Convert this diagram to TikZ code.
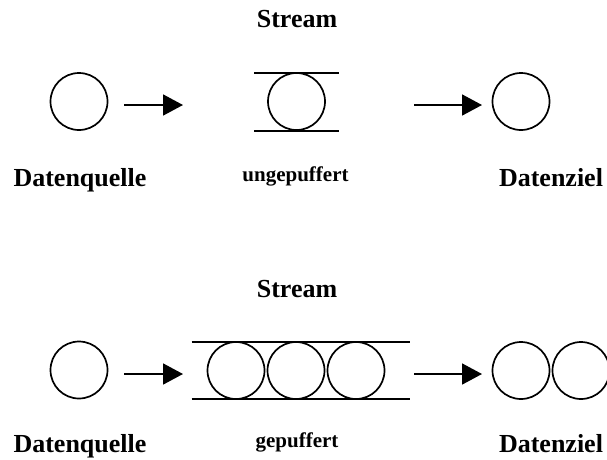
\documentclass[tikz,border=0pt]{standalone}
\usepackage{fontspec}
\setmainfont{Liberation Serif}
\usetikzlibrary{arrows.meta}
\tikzset{
  ball/.style={circle, draw, line width=1.7pt, minimum size=57pt, inner sep=0pt},
  pipe/.style={line width=1.7pt},
  flow/.style={line width=1.7pt, -{Triangle[length=20pt,width=21pt]}},
  biglabel/.style={anchor=base, inner sep=0pt, font=\fontsize{26}{30}\selectfont\bfseries},
  smalllabel/.style={anchor=base, inner sep=0pt, font=\fontsize{21}{25}\selectfont\bfseries},
}
\begin{document}
\begin{tikzpicture}[x=1pt, y=-1pt]
\useasboundingbox (0,0) rectangle (607,459);

% ---- unbuffered stream ----
\node[biglabel] (t1) at (297,27.7) {Stream};
\node[ball] (q1) at (79,101.5) {};
\node[ball] (s1) at (296.5,101.5) {};
\node[ball] (z1) at (521,101.5) {};
\coordinate (p1a) at (254,72.7);
\coordinate (p1b) at (339,72.7);
\coordinate (p1c) at (254,131);
\coordinate (p1d) at (339,131);
\draw[pipe] (p1a) -- (p1b);
\draw[pipe] (p1c) -- (p1d);
\coordinate (a1s) at (124,105);
\coordinate (a1e) at (183,105);
\coordinate (a2s) at (414,105);
\coordinate (a2e) at (482,105);
\draw[flow] (a1s) -- (a1e);
\draw[flow] (a2s) -- (a2e);
\node[biglabel] (lq1) at (80,186.7) {Datenquelle};
\node[smalllabel] (lb1) at (295.5,181.7) {ungepuffert};
\node[biglabel] (lz1) at (551,186.7) {Datenziel};

% ---- buffered stream ----
\node[biglabel] (t2) at (297,297.7) {Stream};
\node[ball] (q2) at (79,370) {};
\node[ball] (s2a) at (236,370.5) {};
\node[ball] (s2b) at (296,370.5) {};
\node[ball] (s2c) at (356,370.5) {};
\node[ball] (z2a) at (521,370.5) {};
\node[ball] (z2b) at (581,370.5) {};
\coordinate (p2a) at (191.7,342);
\coordinate (p2b) at (410,342);
\coordinate (p2c) at (191.7,399.3);
\coordinate (p2d) at (410,399.3);
\draw[pipe] (p2a) -- (p2b);
\draw[pipe] (p2c) -- (p2d);
\coordinate (b1s) at (124,374);
\coordinate (b1e) at (183,374);
\coordinate (b2s) at (414,374);
\coordinate (b2e) at (482,374);
\draw[flow] (b1s) -- (b1e);
\draw[flow] (b2s) -- (b2e);
\node[biglabel] (lq2) at (80,452.5) {Datenquelle};
\node[smalllabel] (lb2) at (297,447.5) {gepuffert};
\node[biglabel] (lz2) at (551,452.5) {Datenziel};
\end{tikzpicture}
\end{document}
